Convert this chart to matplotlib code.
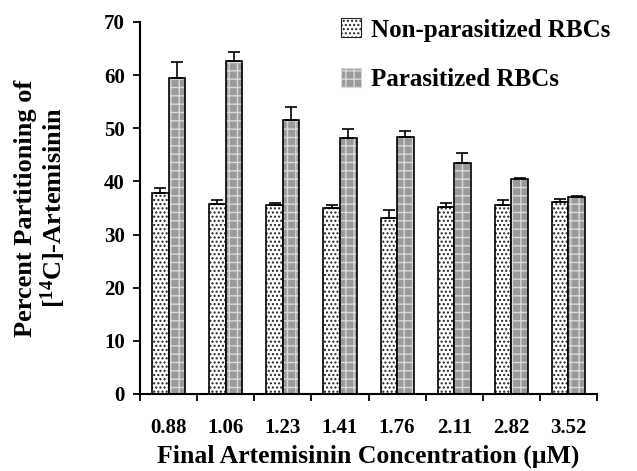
import numpy as np
import matplotlib
matplotlib.use("Agg")
import matplotlib.pyplot as plt
from matplotlib.patches import Patch

plt.rcParams['font.family'] = ['Liberation Serif', 'DejaVu Serif']
plt.rcParams['font.weight'] = 'bold'
plt.rcParams['mathtext.fontset'] = 'custom'
plt.rcParams['mathtext.rm'] = 'Liberation Serif:bold'
plt.rcParams['mathtext.it'] = 'Liberation Serif:bold'
plt.rcParams['mathtext.bf'] = 'Liberation Serif:bold'
plt.rcParams['hatch.linewidth'] = 1.0

# data
conc = ['0.88', '1.06', '1.23', '1.41', '1.76', '2.11', '2.82', '3.52']
non_par = [37.8, 35.8, 35.6, 35.0, 33.2, 35.2, 35.6, 36.1]
non_par_err = [1.0, 0.7, 0.3, 0.6, 1.5, 0.8, 0.9, 0.5]
par = [59.5, 62.6, 51.6, 48.2, 48.3, 43.5, 40.4, 37.0]
par_err = [3.0, 1.8, 2.3, 1.7, 1.2, 1.8, 0.2, 0.2]

fig = plt.figure(figsize=(6.37, 4.71), dpi=100)
ax = fig.add_axes([0.2198, 0.1635, 0.7174, 0.79])

x = np.arange(len(conc))
w = 0.29

# non-parasitized: white with dark dots
ax.bar(x - w/2, non_par, w, color='white', edgecolor='#222222', hatch='....', linewidth=0)
ax.bar(x - w/2, non_par, w, fill=False, edgecolor='black', linewidth=1.2,
       yerr=[np.zeros(len(conc)), non_par_err], capsize=4,
       error_kw=dict(ecolor='black', elinewidth=1.2, capthick=1.2))
# parasitized: grey with light grid
ax.bar(x + w/2, par, w, color='#9a9a9a', edgecolor='#d8d8d8', hatch='++', linewidth=0)
ax.bar(x + w/2, par, w, fill=False, edgecolor='black', linewidth=1.2,
       yerr=[np.zeros(len(conc)), par_err], capsize=4,
       error_kw=dict(ecolor='black', elinewidth=1.2, capthick=1.2))

ax.set_xlim(-0.5, len(conc) - 0.5)
ax.set_ylim(0, 70)
ax.set_yticks(np.arange(0, 71, 10))
ax.set_xticks(np.arange(len(conc) + 1) - 0.5)
ax.set_xticklabels([])
ax.set_xticks(x, minor=True)
ax.set_xticklabels(conc, minor=True)
ax.tick_params(axis='x', which='minor', length=0, pad=17, labelsize=15)
ax.tick_params(axis='x', which='major', length=5, width=1.3, direction='out')
ax.tick_params(axis='y', length=5, width=1.3, labelsize=15, pad=6)
for s in ['top', 'right']:
    ax.spines[s].set_visible(False)
for s in ['left', 'bottom']:
    ax.spines[s].set_linewidth(1.5)

ax.set_xlabel('Final Artemisinin Concentration (\u03bcM)', fontsize=18.5, fontweight='bold', labelpad=5)
ax.set_ylabel('Percent Partitioning of\n[$^{14}$C]-Artemisinin', fontsize=19, fontweight='bold',
              labelpad=26, linespacing=1.05)

handles = [Patch(facecolor='white', edgecolor='#222222', hatch='....', linewidth=0.8),
           Patch(facecolor='#9a9a9a', edgecolor='#d8d8d8', hatch='++', linewidth=0.8)]
ax.legend(handles, ['Non-parasitized RBCs', 'Parasitized RBCs'], loc='upper left',
          bbox_to_anchor=(0.39, 1.07), frameon=False,
          handlelength=0.8, handleheight=0.8, handletextpad=0.4, labelspacing=1.05,
          prop=dict(weight='bold', size=18))

fig.savefig('out.png', dpi=100)
